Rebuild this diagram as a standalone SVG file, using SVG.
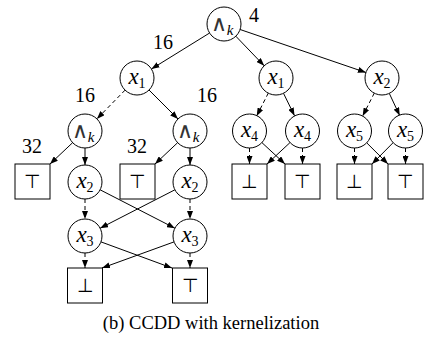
<svg xmlns="http://www.w3.org/2000/svg" width="424" height="341" viewBox="0 0 424 341">
<style>
.n circle, .n rect { fill: #fff; stroke: #000; stroke-width: 1; }
.v { font-family: "Liberation Serif", "Times New Roman", serif; font-size: 23px; font-style: italic; fill: #000; }
.v .s { font-size: 14px; font-style: normal; }
.a { font-family: "DejaVu Sans", sans-serif; font-weight: 200; font-size: 22px; fill: #333; }
.a .s { font-family: "Liberation Serif", "Times New Roman", serif; font-weight: normal; font-size: 15px; font-style: italic; fill: #000; }
.t { font-family: "DejaVu Sans", sans-serif; font-weight: 200; font-size: 19px; fill: #000; text-anchor: middle; }
.lbl { font-family: "Liberation Serif", "Times New Roman", serif; font-size: 20px; fill: #000; }
.cap { font-family: "Liberation Serif", "Times New Roman", serif; font-size: 18.5px; fill: #000; text-anchor: middle; }
.e line { stroke: #000; stroke-width: 1; marker-end: url(#ah); }
.e .d { stroke-dasharray: 4 3; }
</style>
<defs>
<marker id="ah" viewBox="0 0 8 6" refX="8" refY="3" markerWidth="8" markerHeight="6" markerUnits="userSpaceOnUse" orient="auto">
<path d="M0,0 L8,3 L0,6 Z" fill="#000"/>
</marker>
</defs>

<g id="edges" class="e">
<line x1="209.6" y1="33" x2="151.4" y2="69"/>
<line x1="235.8" y1="36.2" x2="264.2" y2="65.8"/>
<line x1="240.1" y1="29.5" x2="365.9" y2="72.5"/>
<line class="d" x1="125.1" y1="90.1" x2="96.9" y2="118.9"/>
<line x1="149" y1="90" x2="178" y2="119"/>
<line x1="72.6" y1="142.7" x2="50" y2="164"/>
<line x1="85" y1="148" x2="85" y2="165"/>
<line x1="177.6" y1="142.7" x2="155" y2="164"/>
<line x1="190" y1="148" x2="190" y2="165"/>
<line class="d" x1="85" y1="199" x2="85" y2="219"/>
<line x1="100.1" y1="189.8" x2="174.9" y2="228.2"/>
<line x1="174.9" y1="189.8" x2="100.1" y2="228.2"/>
<line class="d" x1="190" y1="199" x2="190" y2="219"/>
<line class="d" x1="85" y1="253" x2="85" y2="268"/>
<line x1="101" y1="241.9" x2="172" y2="268"/>
<line x1="174" y1="241.9" x2="102" y2="268"/>
<line class="d" x1="190" y1="253" x2="190" y2="268"/>
<line class="d" x1="268.3" y1="93.1" x2="256.7" y2="115.9"/>
<line x1="283.5" y1="93.3" x2="294.5" y2="115.7"/>
<line class="d" x1="374.3" y1="93.1" x2="362.7" y2="115.9"/>
<line x1="389.3" y1="93.4" x2="399.7" y2="115.6"/>
<line class="d" x1="249.5" y1="148" x2="249.5" y2="164"/>
<line x1="261.8" y1="142.5" x2="285" y2="164"/>
<line x1="289.9" y1="142.7" x2="267" y2="164"/>
<line class="d" x1="302.5" y1="148" x2="302.5" y2="164"/>
<line class="d" x1="354.5" y1="148" x2="354.5" y2="164"/>
<line x1="366.7" y1="142.8" x2="388" y2="164"/>
<line x1="393.1" y1="142.7" x2="372" y2="164"/>
<line class="d" x1="405.5" y1="148" x2="405.5" y2="164"/>
</g>

<g id="root" class="n"><circle cx="224" cy="24" r="17"/><text class="a" x="222" y="31" text-anchor="middle">∧<tspan class="s" dy="4">k</tspan></text></g>
<g id="x1L" class="n"><circle cx="137" cy="78" r="17"/><text class="v" x="137" y="84" text-anchor="middle">x<tspan class="s" dy="4">1</tspan></text></g>
<g id="x1R" class="n"><circle cx="276" cy="78" r="17"/><text class="v" x="276" y="84" text-anchor="middle">x<tspan class="s" dy="4">1</tspan></text></g>
<g id="x2R" class="n"><circle cx="382" cy="78" r="17"/><text class="v" x="382" y="84" text-anchor="middle">x<tspan class="s" dy="4">2</tspan></text></g>
<g id="andL" class="n"><circle cx="85" cy="131" r="17"/><text class="a" x="83" y="138" text-anchor="middle">∧<tspan class="s" dy="4">k</tspan></text></g>
<g id="andR" class="n"><circle cx="190" cy="131" r="17"/><text class="a" x="188" y="138" text-anchor="middle">∧<tspan class="s" dy="4">k</tspan></text></g>
<g id="x4a" class="n"><circle cx="249.5" cy="131" r="17"/><text class="v" x="249.5" y="137" text-anchor="middle">x<tspan class="s" dy="4">4</tspan></text></g>
<g id="x4b" class="n"><circle cx="302.5" cy="131" r="17"/><text class="v" x="302.5" y="137" text-anchor="middle">x<tspan class="s" dy="4">4</tspan></text></g>
<g id="x5a" class="n"><circle cx="354.5" cy="131" r="17"/><text class="v" x="354.5" y="137" text-anchor="middle">x<tspan class="s" dy="4">5</tspan></text></g>
<g id="x5b" class="n"><circle cx="405.5" cy="131" r="17"/><text class="v" x="405.5" y="137" text-anchor="middle">x<tspan class="s" dy="4">5</tspan></text></g>

<g id="topA" class="n"><rect x="15" y="164" width="35" height="35"/><text class="t" x="32.5" y="188">⊤</text></g>
<g id="topB" class="n"><rect x="120" y="164" width="35" height="35"/><text class="t" x="137.5" y="188">⊤</text></g>
<g id="botC" class="n"><rect x="232" y="164" width="35" height="35"/><text class="t" x="249.5" y="188">⊥</text></g>
<g id="topC" class="n"><rect x="285" y="164" width="35" height="35"/><text class="t" x="302.5" y="188">⊤</text></g>
<g id="botD" class="n"><rect x="337" y="164" width="35" height="35"/><text class="t" x="354.5" y="188">⊥</text></g>
<g id="topD" class="n"><rect x="388" y="164" width="35" height="35"/><text class="t" x="405.5" y="188">⊤</text></g>

<g id="x2a" class="n"><circle cx="85" cy="182" r="17"/><text class="v" x="85" y="188" text-anchor="middle">x<tspan class="s" dy="4">2</tspan></text></g>
<g id="x2b" class="n"><circle cx="190" cy="182" r="17"/><text class="v" x="190" y="188" text-anchor="middle">x<tspan class="s" dy="4">2</tspan></text></g>
<g id="x3a" class="n"><circle cx="85" cy="236" r="17"/><text class="v" x="85" y="242" text-anchor="middle">x<tspan class="s" dy="4">3</tspan></text></g>
<g id="x3b" class="n"><circle cx="190" cy="236" r="17"/><text class="v" x="190" y="242" text-anchor="middle">x<tspan class="s" dy="4">3</tspan></text></g>
<g id="botE" class="n"><rect x="67.5" y="268" width="35" height="35"/><text class="t" x="85" y="292">⊥</text></g>
<g id="topE" class="n"><rect x="172.5" y="268" width="35" height="35"/><text class="t" x="190" y="292">⊤</text></g>

<g id="labels">
<text class="lbl" x="249" y="22">4</text>
<text class="lbl" x="153" y="49">16</text>
<text class="lbl" x="75" y="102">16</text>
<text class="lbl" x="197" y="102">16</text>
<text class="lbl" x="22" y="153">32</text>
<text class="lbl" x="127" y="153">32</text>
<text class="cap" x="211" y="329">(b) CCDD with kernelization</text>
</g>
</svg>
